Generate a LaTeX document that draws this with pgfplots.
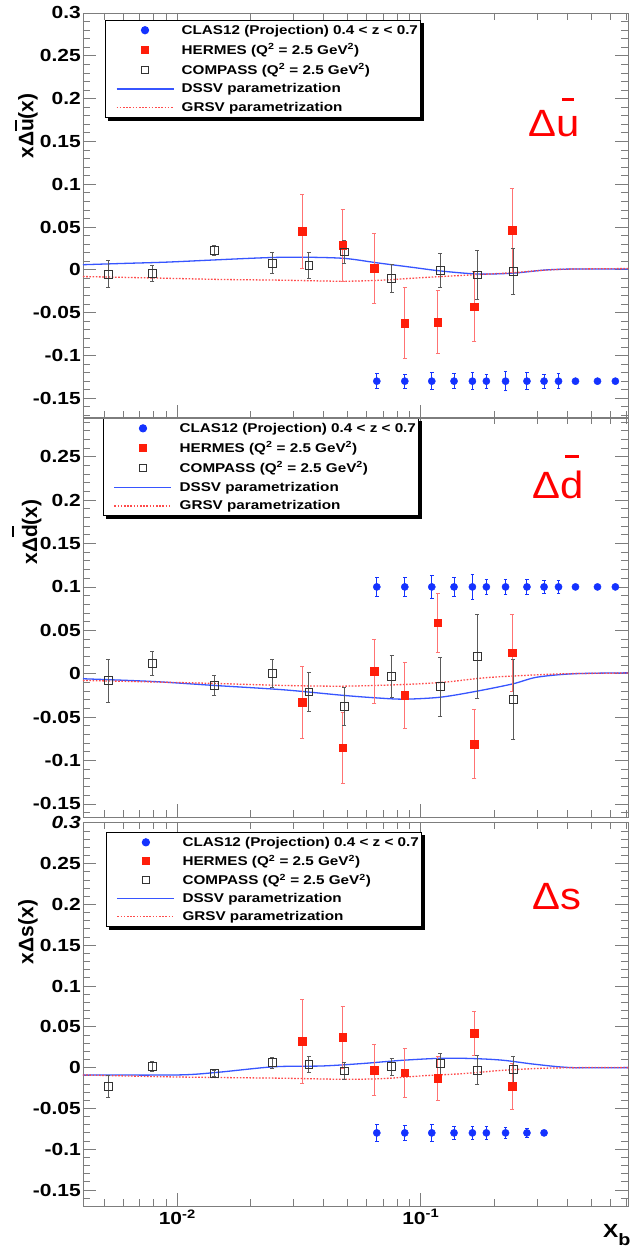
\documentclass[border=0pt]{standalone}
\usepackage{pgfplots}
\pgfplotsset{compat=1.18}
\usepackage{fontspec}
\setmainfont{Liberation Sans}[FakeStretch=1.2]
\newfontfamily\plainsans{Liberation Sans}
\newfontfamily\labelsans{Liberation Sans}[FakeStretch=1.1]

\definecolor{clasblue}{RGB}{20,50,255}
\definecolor{hermesred}{RGB}{255,30,10}
\definecolor{hermeserr}{RGB}{255,115,115}
\definecolor{compassgray}{RGB}{90,90,90}
\definecolor{dssvblue}{RGB}{55,85,255}
\definecolor{grsvred}{RGB}{255,75,75}
\definecolor{framegray}{RGB}{125,125,125}

% a bar of given height above a letter, centred on it
\newcommand{\ovbar}[3]{\leavevmode\setbox0=\hbox{#1}%
  \rlap{\hbox to \wd0{\hss\raisebox{#2}{\rule{#3}{0.08em}}\hss}}\box0}

\pgfplotsset{
  every axis/.append style={
    scale only axis, width=545pt,
    xmin=0.0041, xmax=0.71,
    xtick={0.01,0.1},
    minor xtick={0.005,0.006,0.007,0.008,0.009,0.02,0.03,0.04,0.05,0.06,0.07,0.08,0.09,0.2,0.3,0.4,0.5,0.6,0.7},
    tick align=inside,
    xtick pos=both, ytick pos=both,
    axis line style={framegray, line width=0.9pt},
    tick style={framegray, line width=0.8pt},
    major tick length=13pt, minor tick length=7pt,
    tick label style={font=\bfseries\fontsize{17.5}{18}\selectfont},
    yticklabel style={inner xsep=2pt},
    ylabel style={anchor=center, font=\plainsans\bfseries\fontsize{21}{21}\selectfont},
    legend cell align=left,
    legend style={anchor=north west, draw=black, line width=1pt, fill=white,
      font=\bfseries\fontsize{12.7}{14}\selectfont,
      inner xsep=1pt, inner ysep=3pt, row sep=5pt, column sep=6pt,
      nodes={inner sep=1.5pt}},
  },
  legend image code/.code={\path[draw=none,fill=none] (-10pt,0pt) -- (57pt,0pt);
    \draw[mark repeat=2,mark phase=2,#1] plot coordinates {(0pt,0pt) (28.5pt,0pt) (57pt,0pt)};},
  dssv/.style={forget plot, no marks, dssvblue, line width=1.3pt, smooth},
  grsv/.style={forget plot, no marks, grsvred, line width=1.3pt, smooth,
    dash pattern=on 1.6pt off 1.6pt},
  hermes/.style={forget plot, only marks, mark=square*, mark size=3.8pt,
    mark options={hermesred, fill=hermesred, solid},
    error bars/.cd, y dir=both, y explicit,
    error bar style={hermeserr, line width=0.8pt},
    error mark options={rotate=90, hermeserr, mark size=2pt, line width=0.8pt}},
  compass/.style={forget plot, only marks, mark=square, mark size=3.9pt,
    mark options={black!80, fill=white, line width=0.8pt, solid},
    error bars/.cd, y dir=both, y explicit,
    error bar style={compassgray, line width=0.8pt},
    error mark options={rotate=90, compassgray, mark size=2pt, line width=0.8pt}},
  clas/.style={forget plot, only marks, mark=*, mark size=3.6pt,
    mark options={clasblue, fill=clasblue, solid},
    error bars/.cd, y dir=both, y explicit,
    error bar style={clasblue, line width=1pt},
    error mark options={rotate=90, clasblue, mark size=1.8pt, line width=0.9pt}},
}

% the five legend entries, shared by the three panels
\newcommand{\legendentries}{%
  \addlegendimage{only marks, mark=*, mark size=3.6pt, mark options={clasblue, fill=clasblue}}
  \addlegendentry{CLAS12 (Projection) 0.4 < z < 0.7}
  \addlegendimage{only marks, mark=square*, mark size=3.6pt, mark options={hermesred, fill=hermesred}}
  \addlegendentry{HERMES (Q\textsuperscript{2} = 2.5 GeV\textsuperscript{2})}
  \addlegendimage{only marks, mark=square, mark size=3.4pt, mark options={black!80, fill=white, line width=0.8pt}}
  \addlegendentry{COMPASS (Q\textsuperscript{2} = 2.5 GeV\textsuperscript{2})}
  \addlegendimage{no marks, draw=dssvblue, line width=1.3pt}
  \addlegendentry{DSSV parametrization}
  \addlegendimage{no marks, draw=grsvred, line width=1.3pt, dash pattern=on 1.6pt off 1.6pt}
  \addlegendentry{GRSV parametrization}}

% solid black shadow along the lower and right edges of a legend box
\newcommand{\legendshadow}[1]{%
  \fill[black] ([xshift=3pt]#1.south west) rectangle ([xshift=3pt,yshift=-3pt]#1.south east);
  \fill[black] ([yshift=-3pt]#1.north east) rectangle ([xshift=3pt,yshift=-3pt]#1.south east);}

\begin{document}
\begin{tikzpicture}
\fill[white] (0,0) rectangle (633pt,1249pt);
\useasboundingbox (0,0) rectangle (633pt,1249pt);

% ---------------- x Delta s ----------------
\begin{semilogxaxis}[at={(83pt,43pt)}, anchor=south west, height=384pt,
  ymin=-0.1696, ymax=0.301,
  ytick={-0.15,-0.1,-0.05,0,0.05,0.1,0.15,0.2,0.25,0.3},
  yticklabels={-0.15,-0.1,-0.05,0,0.05,0.1,0.15,0.2,0.25,\textit{0.3}},
  minor ytick={-0.16,-0.14,-0.13,-0.12,-0.11,-0.09,-0.08,-0.07,-0.06,-0.04,-0.03,-0.02,-0.01,0.01,0.02,0.03,0.04,0.06,0.07,0.08,0.09,0.11,0.12,0.13,0.14,0.16,0.17,0.18,0.19,0.21,0.22,0.23,0.24,0.26,0.27,0.28,0.29},
  xticklabels={10\textsuperscript{-2},10\textsuperscript{-1}},
  ylabel={xΔs(x)},
  ylabel style={at={(axis description cs:-0.101,0.7135)}},
  legend style={at={(0.042,0.974)}, row sep=4.2pt, name=legS},
]
\legendentries
\addplot[dssv] coordinates {(0.0041,-0.009) (0.01,-0.009) (0.0144,-0.006) (0.0249,0.001) (0.0394,0.002) (0.0576,0.005) (0.0843,0.009) (0.1233,0.0115) (0.167,0.011) (0.218,0.009) (0.296,0.004) (0.417,0) (0.71,0)};
\addplot[grsv] coordinates {(0.0041,-0.009) (0.01,-0.0115) (0.0269,-0.013) (0.0476,-0.0143) (0.0697,-0.0135) (0.102,-0.010) (0.149,-0.0074) (0.218,-0.0033) (0.319,-0.0008) (0.466,0) (0.71,0)};
\addplot[hermes] coordinates {
  (0.0326,0.032) +- (0,0.051)
  (0.0478,0.037) +- (0,0.038)
  (0.0645,-0.003) +- (0,0.031)
  (0.0860,-0.006) +- (0,0.030)
  (0.1175,-0.013) +- (0,0.027)
  (0.166,0.042) +- (0,0.027)
  (0.237,-0.023) +- (0,0.028)};
\addplot[compass] coordinates {
  (0.0052,-0.023) +- (0,0.014)
  (0.0079,0.001) +- (0,0.006)
  (0.0142,-0.007) +- (0,0.004)
  (0.0245,0.006) +- (0,0.007)
  (0.0347,0.004) +- (0,0.010)
  (0.0485,-0.004) +- (0,0.010)
  (0.076,0.001) +- (0,0.010)
  (0.120,0.005) +- (0,0.013)
  (0.171,-0.003) +- (0,0.018)
  (0.240,-0.002) +- (0,0.016)};
\addplot[clas] coordinates {
  (0.066,-0.08) +- (0,0.010)
  (0.086,-0.08) +- (0,0.009)
  (0.111,-0.08) +- (0,0.010)
  (0.137,-0.08) +- (0,0.008)
  (0.163,-0.08) +- (0,0.008)
  (0.186,-0.08) +- (0,0.008)
  (0.223,-0.08) +- (0,0.007)
  (0.273,-0.08) +- (0,0.006)
  (0.321,-0.08) +- (0,0.003)};
\node[anchor=base west, text=red, font=\labelsans\fontsize{38}{38}\selectfont]
  at (rel axis cs:0.818,0.771) {Δs};
\end{semilogxaxis}
\legendshadow{legS}

% ---------------- x Delta dbar ----------------
\begin{semilogxaxis}[at={(83pt,432pt)}, anchor=south west, height=400pt,
  ymin=-0.165, ymax=0.2957,
  ytick={-0.15,-0.1,-0.05,0,0.05,0.1,0.15,0.2,0.25},
  yticklabels={-0.15,-0.1,-0.05,0,0.05,0.1,0.15,0.2,0.25},
  minor ytick={-0.16,-0.14,-0.13,-0.12,-0.11,-0.09,-0.08,-0.07,-0.06,-0.04,-0.03,-0.02,-0.01,0.01,0.02,0.03,0.04,0.06,0.07,0.08,0.09,0.11,0.12,0.13,0.14,0.16,0.17,0.18,0.19,0.21,0.22,0.23,0.24,0.26,0.27,0.28,0.29},
  xticklabels={,},
  ylabel={xΔ\ovbar{d}{1.1em}{0.55em}(x)},
  ylabel style={at={(axis description cs:-0.1028,0.7125)}},
  legend style={at={(0.0367,0.9975)}, name=legD},
]
\legendentries
\addplot[dssv] coordinates {(0.0041,-0.0058) (0.0079,-0.0089) (0.0142,-0.0135) (0.0273,-0.0185) (0.0484,-0.025) (0.0656,-0.0278) (0.0855,-0.0293) (0.1207,-0.027) (0.1707,-0.020) (0.2395,-0.0116) (0.30,-0.004) (0.4254,0) (0.71,0.001)};
\addplot[grsv] coordinates {(0.0041,-0.0077) (0.0127,-0.0108) (0.0273,-0.0135) (0.0484,-0.0143) (0.0855,-0.0124) (0.1255,-0.0097) (0.1842,-0.0046) (0.27,-0.0019) (0.396,0) (0.71,0.0008)};
\addplot[hermes] coordinates {
  (0.0326,-0.033) +- (0,0.042)
  (0.0478,-0.085) +- (0,0.041)
  (0.0645,0.003) +- (0,0.037)
  (0.0860,-0.025) +- (0,0.038)
  (0.1175,0.059) +- (0,0.034)
  (0.166,-0.081) +- (0,0.040)
  (0.237,0.024) +- (0,0.044)};
\addplot[compass] coordinates {
  (0.0052,-0.008) +- (0,0.025)
  (0.0079,0.012) +- (0,0.014)
  (0.0142,-0.0135) +- (0,0.012)
  (0.0245,0.000) +- (0,0.016)
  (0.0347,-0.021) +- (0,0.022)
  (0.0485,-0.038) +- (0,0.022)
  (0.076,-0.003) +- (0,0.024)
  (0.120,-0.015) +- (0,0.034)
  (0.171,0.020) +- (0,0.048)
  (0.240,-0.030) +- (0,0.046)};
\addplot[clas] coordinates {
  (0.066,0.1) +- (0,0.011)
  (0.086,0.1) +- (0,0.011)
  (0.111,0.1) +- (0,0.013)
  (0.137,0.1) +- (0,0.011)
  (0.163,0.1) +- (0,0.014)
  (0.186,0.1) +- (0,0.009)
  (0.223,0.1) +- (0,0.009)
  (0.273,0.1) +- (0,0.009)
  (0.321,0.1) +- (0,0.007)
  (0.368,0.1) +- (0,0.007)
  (0.432,0.1) +- (0,0.002)
  (0.532,0.1) +- (0,0.002)
  (0.630,0.1) +- (0,0.002)};
\node[anchor=base west, text=red, font=\labelsans\fontsize{38}{38}\selectfont]
  at (rel axis cs:0.818,0.795) {Δ\ovbar{d}{1.08em}{0.35em}};
\end{semilogxaxis}
\legendshadow{legD}

% ---------------- x Delta ubar ----------------
\begin{semilogxaxis}[at={(83pt,831pt)}, anchor=south west, height=405pt,
  ymin=-0.173, ymax=0.3,
  ytick={-0.15,-0.1,-0.05,0,0.05,0.1,0.15,0.2,0.25,0.3},
  yticklabels={-0.15,-0.1,-0.05,0,0.05,0.1,0.15,0.2,0.25,0.3},
  minor ytick={-0.17,-0.16,-0.14,-0.13,-0.12,-0.11,-0.09,-0.08,-0.07,-0.06,-0.04,-0.03,-0.02,-0.01,0.01,0.02,0.03,0.04,0.06,0.07,0.08,0.09,0.11,0.12,0.13,0.14,0.16,0.17,0.18,0.19,0.21,0.22,0.23,0.24,0.26,0.27,0.28,0.29},
  xticklabels={,},
  ylabel={xΔ\ovbar{u}{0.78em}{0.55em}(x)},
  ylabel style={at={(axis description cs:-0.1037,0.721)}},
  legend style={at={(0.0404,0.983)}, name=legU},
]
\legendentries
\addplot[dssv] coordinates {(0.0041,0.006) (0.006,0.0075) (0.009,0.009) (0.014,0.0115) (0.02,0.0135) (0.026,0.0146) (0.035,0.0147) (0.049,0.0133) (0.067,0.008) (0.092,0.003) (0.118,-0.001) (0.153,-0.004) (0.18,-0.005) (0.236,-0.004) (0.28,-0.002) (0.33,0) (0.43,0.001) (0.71,0.001)};
\addplot[grsv] coordinates {(0.0041,-0.0078) (0.008,-0.0095) (0.015,-0.0112) (0.026,-0.012) (0.04,-0.013) (0.05,-0.0133) (0.07,-0.012) (0.09,-0.010) (0.118,-0.008) (0.16,-0.006) (0.236,-0.0034) (0.3,-0.001) (0.4,0.0008) (0.71,0.0015)};
\addplot[hermes] coordinates {
  (0.0326,0.045) +- (0,0.043)
  (0.0478,0.029) +- (0,0.042)
  (0.0645,0.002) +- (0,0.041)
  (0.0860,-0.062) +- (0,0.041)
  (0.1175,-0.061) +- (0,0.037)
  (0.166,-0.043) +- (0,0.041)
  (0.237,0.046) +- (0,0.049)};
\addplot[compass] coordinates {
  (0.0052,-0.005) +- (0,0.016)
  (0.0079,-0.004) +- (0,0.009)
  (0.0142,0.023) +- (0,0.006)
  (0.0245,0.008) +- (0,0.012)
  (0.0347,0.005) +- (0,0.015)
  (0.0485,0.021) +- (0,0.013)
  (0.076,-0.010) +- (0,0.016)
  (0.120,-0.001) +- (0,0.020)
  (0.171,-0.006) +- (0,0.029)
  (0.240,-0.002) +- (0,0.027)};
\addplot[clas] coordinates {
  (0.066,-0.13) +- (0,0.009)
  (0.086,-0.13) +- (0,0.008)
  (0.111,-0.13) +- (0,0.010)
  (0.137,-0.13) +- (0,0.009)
  (0.163,-0.13) +- (0,0.010)
  (0.186,-0.13) +- (0,0.008)
  (0.223,-0.13) +- (0,0.011)
  (0.273,-0.13) +- (0,0.010)
  (0.321,-0.13) +- (0,0.008)
  (0.368,-0.13) +- (0,0.009)
  (0.432,-0.13) +- (0,0.002)
  (0.532,-0.13) +- (0,0.002)
  (0.630,-0.13) +- (0,0.002)};
\node[anchor=base west, text=red, font=\labelsans\fontsize{38}{38}\selectfont]
  at (rel axis cs:0.811,0.694) {Δ\ovbar{u}{0.95em}{0.33em}};
\end{semilogxaxis}
\legendshadow{legU}

% title of the shared x axis
\node[anchor=base west, inner sep=0pt, font=\bfseries\fontsize{19}{19}\selectfont]
  at (603pt,11pt) {X\raisebox{-7pt}{\fontsize{16.5}{16.5}\selectfont b}};
\end{tikzpicture}
\end{document}
